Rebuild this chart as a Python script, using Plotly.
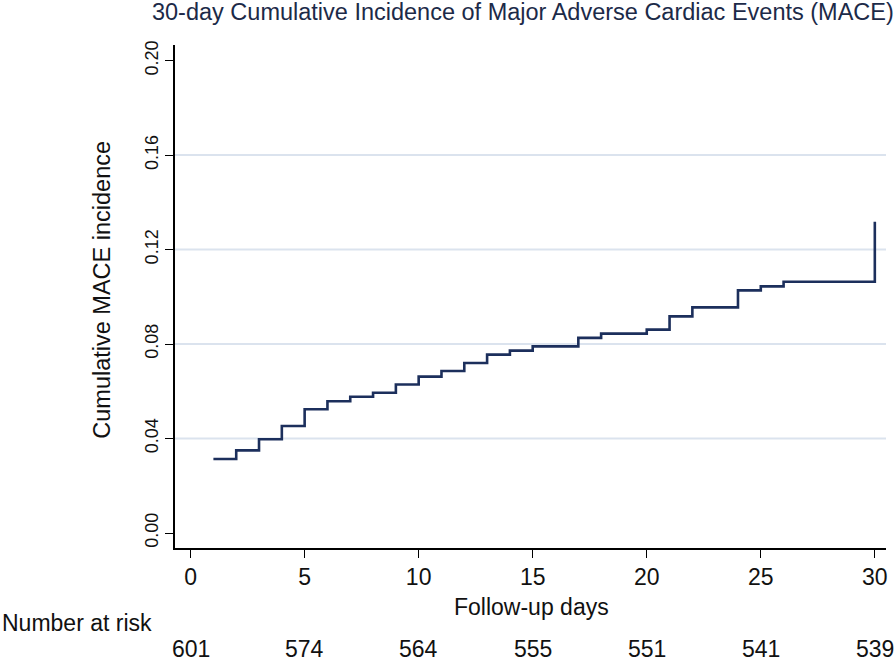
import plotly.graph_objects as go

days = list(range(1, 31))
incidence = [0.0313, 0.0350, 0.0397, 0.0453, 0.0524, 0.0558, 0.0577, 0.0594, 0.0629, 0.0662,
             0.0686, 0.0720, 0.0755, 0.0772, 0.0790, 0.0790, 0.0826, 0.0844, 0.0844, 0.0861,
             0.0917, 0.0955, 0.0955, 0.1027, 0.1044, 0.1064, 0.1064, 0.1064, 0.1064, 0.1318]
risk_days = [0, 5, 10, 15, 20, 25, 30]
at_risk = [601, 574, 564, 555, 551, 541, 539]
y_ticks = [0.00, 0.04, 0.08, 0.12, 0.16, 0.20]

REG = "Liberation Sans, Arial, Helvetica, sans-serif"
TXT = "#111111"

fig = go.Figure()
fig.add_trace(go.Scatter(x=days, y=incidence, mode="lines", line_shape="hv",
                         line=dict(color="#1c2f5c", width=2.6), showlegend=False))

for v in y_ticks[1:-1]:
    fig.add_shape(type="line", xref="paper", x0=0, x1=1, yref="y", y0=v, y1=v,
                  line=dict(color="#dbe3ee", width=2), layer="below")

for d, n in zip(risk_days, at_risk):
    fig.add_annotation(x=d, xref="x", y=-0.201, yref="paper", text=str(n), showarrow=False,
                       font=dict(family=REG, size=23, color=TXT), yanchor="middle")
fig.add_annotation(x=-0.246, xref="paper", y=-0.149, yref="paper", text="Number at risk",
                   showarrow=False, font=dict(family=REG, size=23, color=TXT),
                   xanchor="left", yanchor="middle")
fig.add_annotation(x=0.502, xref="paper", y=-0.117, yref="paper", text="Follow-up days",
                   showarrow=False, font=dict(family=REG, size=23, color=TXT),
                   xanchor="center", yanchor="middle")
fig.add_annotation(x=-0.103, xref="paper", y=0.513, yref="paper", text="Cumulative MACE incidence",
                   showarrow=False, textangle=-90, font=dict(family=REG, size=23.5, color=TXT),
                   xanchor="center", yanchor="middle")

fig.update_layout(
    width=896, height=662,
    margin=dict(l=175, r=10, t=45, b=114, autoexpand=False),
    paper_bgcolor="white", plot_bgcolor="white",
    title=dict(text="30-day Cumulative Incidence of Major Adverse Cardiac Events (MACE)",
               x=0.1696, xanchor="left", xref="container", y=0.982, yanchor="middle",
               yref="container", font=dict(family=REG, size=23.5, color="#1c2a48")),
    xaxis=dict(range=[-0.684, 30.49], tickvals=risk_days, ticks="outside", ticklen=8,
               tickcolor="black", showline=True, linecolor="black", linewidth=1.5,
               showgrid=False, zeroline=False, automargin=False,
               tickfont=dict(family=REG, size=23, color=TXT)),
    yaxis=dict(range=[-0.00635, 0.2066], tickvals=y_ticks, ticktext=[f"{v:.2f}" for v in y_ticks],
               tickangle=-90, ticks="outside", ticklen=8, tickcolor="black",
               showline=True, linecolor="black", linewidth=1.5, showgrid=False, zeroline=False,
               automargin=False, tickfont=dict(family=REG, size=18, color=TXT)),
)

fig.write_html("out.html", config={"displayModeBar": False},
               post_script="document.body.style.margin='0';document.body.style.overflow='hidden';")
